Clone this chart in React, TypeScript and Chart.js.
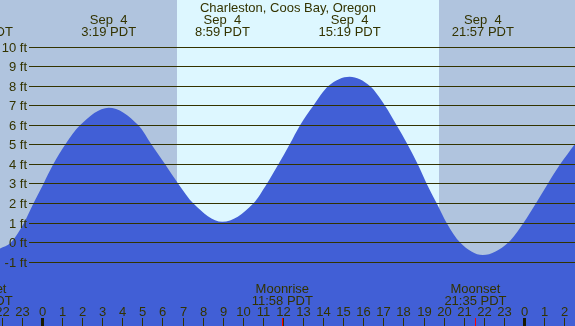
import React, { useEffect, useRef } from "react";
import { Chart, registerables } from "chart.js";

Chart.register(...registerables);

// Tide heights (ft), at hours since midnight Sep 4 (PDT)
const tideHours = [
  -3.0, -2.09, -1.55, -0.9, -0.43, 0.07, 0.56, 1.15, 1.89, 3.32, 4.8, 5.46, 6.13, 6.79, 7.54,
  8.98, 10.52, 11.19, 11.77, 12.32, 12.85, 13.51, 14.26, 15.32, 16.33, 17.08, 17.66, 18.21,
  18.71, 19.16, 19.66, 20.15, 20.82, 21.95, 23.22, 23.97, 24.59, 25.18, 25.8, 26.51, 27.2,
];
const tideFeet = [
  -0.65, -0.3, 0, 1, 2, 3, 4, 5, 6, 6.9, 6, 5, 4, 3, 2,
  1.06, 2, 3, 4, 5, 6, 7, 8, 8.48, 8, 7, 6, 5,
  4, 3, 2, 1, 0, -0.64, 0, 1, 2, 3, 4, 5, 6,
];

// High / low labels on top
const extremeHours = [-3.0, 3.317, 8.983, 15.317, 21.95];
const extremeDates = ["Sep  3", "Sep  4", "Sep  4", "Sep  4", "Sep  4"];
const extremeTimes = ["21:00 PDT", "3:19 PDT", "8:59 PDT", "15:19 PDT", "21:57 PDT"];

// Moon events at the bottom
const moonHours = [-3.01, 11.967, 21.583];
const moonNames = ["Moonset", "Moonrise", "Moonset"];
const moonTimes = ["21:00 PDT", "11:58 PDT", "21:35 PDT"];

// Sunrise / sunset (hours)
const sunHours = [6.722, 19.768];

// Horizontal level lines (ft)
const levelFeet = [-1, 0, 1, 2, 3, 4, 5, 6, 7, 8, 9, 10];
const levelLabels = ["-1 ft", "0 ft", "1 ft", "2 ft", "3 ft", "4 ft", "5 ft", "6 ft", "7 ft", "8 ft", "9 ft", "10 ft"];

// Hour ticks along the bottom
const tickHours = [-2, -1, 0, 1, 2, 3, 4, 5, 6, 7, 8, 9, 10, 11, 12, 13, 14, 15, 16, 17, 18, 19, 20, 21, 22, 23, 24, 25, 26];
const tickLabels = ["22", "23", "0", "1", "2", "3", "4", "5", "6", "7", "8", "9", "10", "11", "12", "13", "14", "15", "16", "17", "18", "19", "20", "21", "22", "23", "0", "1", "2"];

const TITLE = "Charleston, Coos Bay, Oregon";

const X_MIN = -2.0913;
const X_MAX = 26.54;
const Y_MIN = -4.264;
const Y_MAX = 12.403;

const W = 575;
const H = 326;

const BLUE = "#415FD6";
const NIGHT = "#B0C4DE";
const DAY = "#DDF7FF";
const INK = "#333300";
const FONT = '13px "Liberation Sans", Arial, sans-serif';

const tidePlugin = {
  id: "tideDecor",
  beforeDraw(chart: any) {
    const { ctx, chartArea, scales } = chart;
    const { left, right, top, bottom } = chartArea;
    const x = scales.x;
    ctx.save();
    ctx.fillStyle = NIGHT;
    ctx.fillRect(left, top, right - left, bottom - top);
    const sx = Math.round(x.getPixelForValue(sunHours[0]));
    const ex = Math.round(x.getPixelForValue(sunHours[1]));
    ctx.fillStyle = DAY;
    ctx.fillRect(sx, top, ex - sx, bottom - top);
    ctx.restore();
  },
  afterDraw(chart: any) {
    const { ctx, chartArea, scales } = chart;
    const { right, bottom } = chartArea;
    const x = scales.x;
    const y = scales.y;
    ctx.save();
    ctx.font = FONT;
    ctx.fillStyle = INK;
    ctx.strokeStyle = INK;
    ctx.lineWidth = 1;
    ctx.textBaseline = "alphabetic";

    // level lines + labels
    levelFeet.forEach((ft, i) => {
      const py = Math.floor(y.getPixelForValue(ft)) + 0.5;
      ctx.beginPath();
      ctx.moveTo(29, py);
      ctx.lineTo(right, py);
      ctx.stroke();
      ctx.textAlign = "right";
      ctx.fillText(levelLabels[i], 27, py + 4.5);
    });

    // title
    ctx.textAlign = "center";
    ctx.fillText(TITLE, 288, 12);

    // extremes
    extremeHours.forEach((h, i) => {
      const px = x.getPixelForValue(h);
      ctx.fillText(extremeDates[i], px, 24);
      ctx.fillText(extremeTimes[i], px, 36);
    });

    // hour ticks
    tickHours.forEach((h, i) => {
      const px = Math.round(x.getPixelForValue(h));
      const isMidnight = tickLabels[i] === "0";
      if (isMidnight) {
        ctx.fillStyle = "#1a1a00";
        ctx.fillRect(px - 1, 318, 3, bottom - 318);
      } else {
        ctx.fillStyle = INK;
        ctx.fillRect(px, 318, 1, bottom - 318);
      }
      ctx.fillStyle = INK;
      ctx.fillText(tickLabels[i], px + 0.5, 316);
    });

    // moon events
    moonHours.forEach((h, i) => {
      const px = x.getPixelForValue(h);
      ctx.fillStyle = "#FF0000";
      ctx.fillRect(Math.round(px), 318, 1, bottom - 318);
      ctx.fillStyle = INK;
      ctx.fillText(moonNames[i], px, 293);
      ctx.fillText(moonTimes[i], px, 305);
    });

    ctx.restore();
  },
};

export default function App() {
  const ref = useRef<HTMLCanvasElement | null>(null);

  useEffect(() => {
    if (!ref.current) return;
    const chart = new Chart(ref.current, {
      type: "line",
      data: {
        datasets: [
          {
            data: tideHours.map((h, i) => ({ x: h, y: tideFeet[i] })),
            fill: "start",
            backgroundColor: BLUE,
            borderColor: "rgba(0,0,0,0)",
            borderWidth: 0,
            pointRadius: 0,
            cubicInterpolationMode: "monotone",
          },
        ],
      },
      options: {
        animation: false,
        responsive: false,
        events: [],
        layout: { padding: 0 },
        plugins: {
          legend: { display: false },
          tooltip: { enabled: false },
          title: { display: false },
        },
        scales: {
          x: { type: "linear", min: X_MIN, max: X_MAX, display: false },
          y: { type: "linear", min: Y_MIN, max: Y_MAX, display: false },
        },
      },
      plugins: [tidePlugin],
    } as any);
    return () => chart.destroy();
  }, []);

  return (
    <div style={{ position: "absolute", left: 0, top: 0, width: W, height: H }}>
      <canvas ref={ref} width={W} height={H} style={{ width: W, height: H, display: "block" }} />
    </div>
  );
}
